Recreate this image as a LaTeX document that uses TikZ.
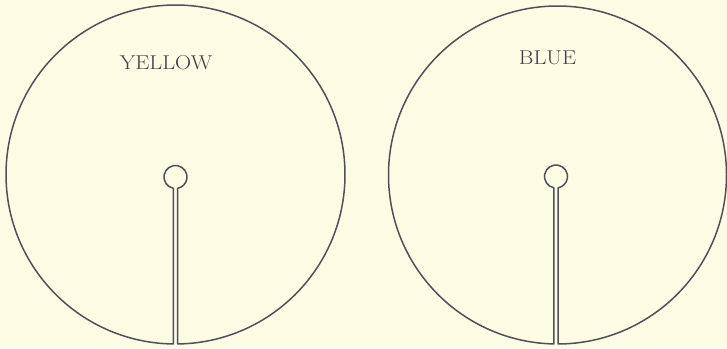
\documentclass[tikz,border=0pt]{standalone}
\usepackage{xcolor}
\definecolor{paper}{HTML}{FCFCE4}
\definecolor{ink}{HTML}{505058}
\definecolor{textink}{HTML}{3E3E4A}
\newcommand\slitdisc[8]{%
  % #1 name, #2 X, #3 Y, #4 R, #5 xs, #6 ys, #7 r, #8 half width
  \coordinate (#1big) at (#2,#3);
  \coordinate (#1small) at (#5,#6);
  \pgfmathsetmacro\aBL{270+asin((#5-#8-#2)/#4)}
  \pgfmathsetmacro\aBR{-90+asin((#5+#8-#2)/#4)}
  \pgfmathsetmacro\aSL{270-asin(#8/#7)}
  \pgfmathsetmacro\aSR{-90+asin(#8/#7)}
  \draw[discline] ([shift={(\aBL:#4)}]#1big)
    -- ([shift={(\aSL:#7)}]#1small)
    arc[start angle=\aSL, end angle=\aSR, radius=#7]
    -- ([shift={(\aBR:#4)}]#1big)
    arc[start angle=\aBR, end angle=\aBL, radius=#4] -- cycle;
}
\begin{document}
\begin{tikzpicture}[x=1pt,y=1pt,
  discline/.style={draw=ink, line width=1.5pt, line join=round},
  label/.style={text=textink, font=\fontsize{20}{20}\selectfont, xscale=1.12, anchor=base, inner sep=0pt}]
  \fill[paper] (0,0) rectangle (727,348);
  \useasboundingbox (0,0) rectangle (727,348);
  \slitdisc{L}{175.5}{173.5}{169.5}{175.5}{171}{11.5}{2.2}
  \slitdisc{R}{557.5}{173}{169}{556}{171.5}{11.5}{2.2}
  \node[label] (yellow) at (166,278) {YELLOW};
  \node[label] (blue) at (547.5,283) {BLUE};
\end{tikzpicture}
\end{document}
